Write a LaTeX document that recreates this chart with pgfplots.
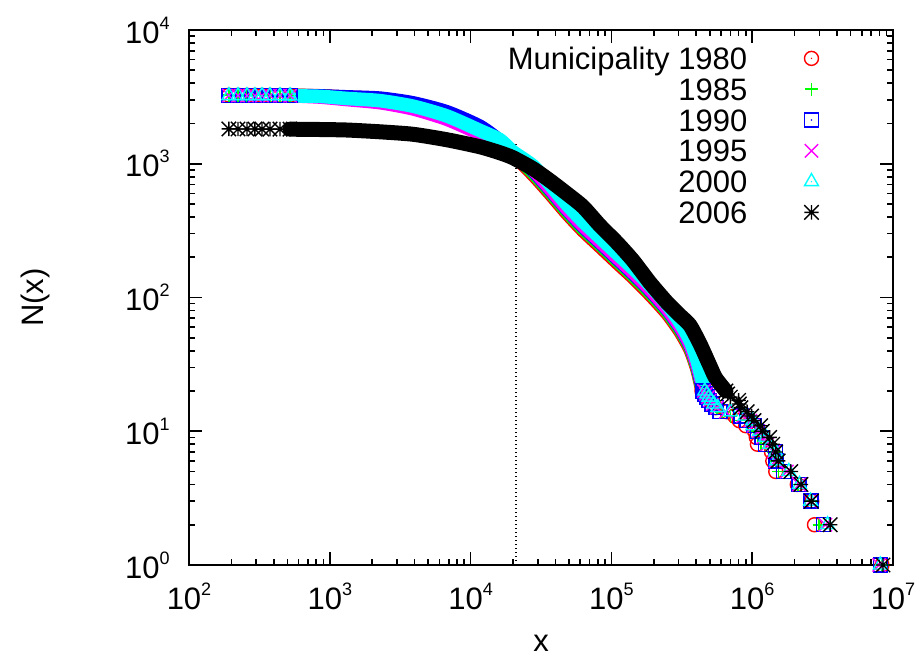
\documentclass[border=0pt]{standalone}
\usepackage{fontspec}
\setmainfont{Liberation Sans}
\usepackage{pgfplots}
\usepackage{pgfplotstable}
\pgfplotsset{compat=1.18}
\usetikzlibrary{plotmarks}

\definecolor{gred}{RGB}{255,0,0}
\definecolor{ggreen}{RGB}{0,255,0}
\definecolor{gblue}{RGB}{0,0,255}
\definecolor{gmag}{RGB}{255,0,255}
\definecolor{gcyan}{RGB}{0,255,255}

\newcommand{\gsup}[1]{\raisebox{7pt}{\fontsize{9}{9}\selectfont #1}}
\newcommand{\lfont}{\fontsize{15.5}{18}\selectfont}

\pgfdeclareplotmark{gcirc}{%
  \pgfpathcircle{\pgfpointorigin}{\pgfplotmarksize}\pgfusepathqstroke
  \pgfpathcircle{\pgfpointorigin}{0.4pt}\pgfusepathqfill}
\pgfdeclareplotmark{gsq}{%
  \pgfpathrectanglecorners{\pgfqpoint{-\pgfplotmarksize}{-\pgfplotmarksize}}{\pgfqpoint{\pgfplotmarksize}{\pgfplotmarksize}}\pgfusepathqstroke
  \pgfpathcircle{\pgfpointorigin}{0.4pt}\pgfusepathqfill}
\pgfdeclareplotmark{gtri}{%
  \pgfpathmoveto{\pgfqpoint{0pt}{\pgfplotmarksize}}%
  \pgfpathlineto{\pgfqpointpolar{-150}{\pgfplotmarksize}}%
  \pgfpathlineto{\pgfqpointpolar{-30}{\pgfplotmarksize}}%
  \pgfpathclose\pgfusepathqstroke
  \pgfpathcircle{\pgfpointorigin}{0.4pt}\pgfusepathqfill}
\pgfdeclareplotmark{gstar}{%
  \pgfpathmoveto{\pgfqpoint{-\pgfplotmarksize}{0pt}}\pgfpathlineto{\pgfqpoint{\pgfplotmarksize}{0pt}}%
  \pgfpathmoveto{\pgfqpoint{0pt}{-\pgfplotmarksize}}\pgfpathlineto{\pgfqpoint{0pt}{\pgfplotmarksize}}%
  \pgfpathmoveto{\pgfqpoint{-\pgfplotmarksize}{-\pgfplotmarksize}}\pgfpathlineto{\pgfqpoint{\pgfplotmarksize}{\pgfplotmarksize}}%
  \pgfpathmoveto{\pgfqpoint{-\pgfplotmarksize}{\pgfplotmarksize}}\pgfpathlineto{\pgfqpoint{\pgfplotmarksize}{-\pgfplotmarksize}}%
  \pgfusepathqstroke}

\pgfplotstableread{
x N
192 3255
223 3254
258 3253
294 3252
330 3251
376 3249
443 3247
522 3245
852 3220
1325 3141
2272 3066
3898 2818
6798 2411
11664 1879
16174 1435
20005 1167
27750 828
36640 597
48380 424
62850 316
82990 240
109600 182
142400 141
188000 105
248300 76.0
307100 55.7
361600 40.9
405500 29.0
440000 20
460000 19
490000 18
510000 17
530000 16
550000 15
660000 14
750000 13
810000 12
900000 11
1040000 10
1069000 9
1089000 8
1371000 7
1400000 6
1470000 5
2090000 4
2650000 3
2770000 2
8350000 1
}\tA

\pgfplotstableread{
x N
192 3253
223 3252
258 3251
294 3250
330 3249
376 3247
443 3245
522 3243
852 3206
1325 3109
2272 3014
3898 2756
6798 2341
11664 1825
16174 1459
20005 1187
27750 857
36640 618
48380 438
62850 327
82990 249
109600 189
142400 146
188000 109
248300 78.6
307100 57.7
361600 42.4
405500 30.0
444000 20
462000 19
485000 18
505000 17
535000 16
560000 15
610000 14
700000 13
820000 12
1040000 11
1060000 10
1090000 9
1160000 8
1410000 7
1480000 6
1540000 5
2120000 4
2640000 3
2990000 2
8350000 1
}\tB

\pgfplotstableread{
x N
192 3245
223 3244
258 3243
294 3242
330 3241
376 3239
443 3237
522 3235
852 3215
1325 3162
2272 3093
3898 2852
6798 2444
11664 1905
16174 1485
20005 1208
27750 887
36640 640
48380 454
62850 339
82990 257
109600 195
142400 151
188000 113
248300 81.4
307100 59.7
361600 43.8
405500 31.1
447000 20
462000 19
478000 18
493000 17
518000 16
553000 15
590000 14
830000 13
920000 12
1030000 11
1090000 10
1170000 9
1240000 8
1460000 7
1480000 6
1670000 5
2150000 4
2620000 3
3220000 2
8160000 1
}\tC

\pgfplotstableread{
x N
192 3234
223 3233
258 3232
294 3231
330 3230
376 3228
443 3227
522 3225
852 3152
1325 3019
2272 2862
3898 2573
6798 2149
11664 1675
16174 1435
20005 1167
27750 902
36640 651
48380 461
62850 345
82990 262
109600 199
142400 154
188000 115
248300 82.8
307100 60.8
361600 44.6
405500 31.6
454000 20
469000 19
485000 18
500000 17
526000 16
561000 15
650000 14
860000 13
970000 12
1020000 11
1110000 10
1200000 9
1280000 8
1420000 7
1460000 6
1760000 5
2150000 4
2600000 3
3310000 2
7970000 1
}\tD

\pgfplotstableread{
x N
192 3229
223 3228
258 3227
294 3226
330 3225
376 3224
443 3222
522 3220
852 3190
1325 3077
2272 2962
3898 2695
6798 2274
11664 1772
16174 1511
20005 1229
27750 966
36640 697
48380 494
62850 369
82990 280
109600 213
142400 165
188000 123
248300 88.7
307100 65.1
361600 47.8
405500 33.9
460000 20
476000 19
492000 18
508000 17
534000 16
570000 15
700000 14
890000 13
1008000 12
1011000 11
1130000 10
1250000 9
1340000 8
1470000 7
1490000 6
1820000 5
2170000 4
2600000 3
3430000 2
8130000 1
}\tE

\pgfplotstableread{
x N
192 1821
223 1820
258 1819
294 1818
330 1817
376 1816
443 1815
522 1813
852 1803
1325 1787
2272 1733
3898 1661
6798 1511
11664 1339
16174 1208
20005 1109
27750 918
36640 747
48380 597
62850 478
82990 345
109600 257
142400 189
188000 129
248300 91.8
307100 73.4
361600 62
425900 45
500000 31
550000 25
650000 20
670000 19
700000 18
800000 17
810000 16
830000 15
920000 14
990000 13
1030000 12
1150000 11
1180000 10
1330000 9
1400000 8
1470000 7
1530000 6
1880000 5
2220000 4
2630000 3
3580000 2
8490000 1
}\tF

\begin{document}
\begin{tikzpicture}
\useasboundingbox (-94.5pt,-47pt) rectangle (365.5pt,282.5pt);
\begin{axis}[
  xmode=log, ymode=log,
  scale only axis, width=352pt, height=267.5pt,
  xmin=100, xmax=10000000, ymin=1, ymax=10000,
  clip=false,
  xtick={100,1000,10000,100000,1000000,10000000},
  xticklabels={10\gsup{2},10\gsup{3},10\gsup{4},10\gsup{5},10\gsup{6},10\gsup{7}},
  ytick={1,10,100,1000,10000},
  yticklabels={10\gsup{0},10\gsup{1},10\gsup{2},10\gsup{3},10\gsup{4}},
  minor xtick={200,300,400,500,600,700,800,900,2000,3000,4000,5000,6000,7000,8000,9000,20000,30000,40000,50000,60000,70000,80000,90000,200000,300000,400000,500000,600000,700000,800000,900000,2000000,3000000,4000000,5000000,6000000,7000000,8000000,9000000},
  minor ytick={2,3,4,5,6,7,8,9,20,30,40,50,60,70,80,90,200,300,400,500,600,700,800,900,2000,3000,4000,5000,6000,7000,8000,9000},
  tick align=inside, tick pos=both,
  major tick length=6.5pt, minor tick length=2.8pt,
  every tick/.style={black, line width=0.8pt},
  axis line style={line width=1pt},
  xticklabel style={font=\lfont, inner sep=0pt, yshift=-9pt},
  yticklabel style={font=\lfont, inner sep=0pt, xshift=-9.5pt},
  xlabel={x}, ylabel={N(x)},
  xlabel style={font=\lfont, at={(axis description cs:0.5,-0.1458)}, anchor=center},
  ylabel style={font=\lfont, at={(axis description cs:-0.21875,0.5)}, anchor=center},
  legend plot pos=right,
  legend cell align=right,
  legend style={draw=none, fill=none, font=\lfont,
    at={(rel axis cs:0.895,0.9686)}, anchor=north east,
    inner sep=0pt, row sep=4.2pt, column sep=28.5pt,
    nodes={inner sep=0pt, text height=11.2pt, text depth=0pt}},
  band/.style={line width=#1, line cap=round, line join=round, smooth, tension=0.4, forget plot},
]
\addplot[black, line width=0.6pt, dash pattern=on 0.6pt off 1.4pt, forget plot] coordinates {(21000,1) (21000,1410)};

\addplot[gred, band=6.8pt, skip coords between index={0}{7}, skip coords between index={29}{100}] table[x=x,y=N] {\tA};
\addplot[gred, only marks, mark=gcirc, mark size=3.5pt, mark options={line width=0.7pt}, skip coords between index={8}{28}] table[x=x,y=N] {\tA};
\addlegendentry{Municipality 1980}

\addplot[ggreen, band=6.8pt, skip coords between index={0}{7}, skip coords between index={29}{100}] table[x=x,y=N] {\tB};
\addplot[ggreen, only marks, mark=+, mark size=3.3pt, mark options={line width=0.8pt}, skip coords between index={8}{28}] table[x=x,y=N] {\tB};
\addlegendentry{1985}

\addplot[gblue, band=6.8pt, skip coords between index={0}{7}, skip coords between index={29}{100}] table[x=x,y=N] {\tC};
\addplot[gblue, only marks, mark=gsq, mark size=3.5pt, mark options={line width=0.7pt}, skip coords between index={8}{28}] table[x=x,y=N] {\tC};
\addlegendentry{1990}

\addplot[gmag, band=6.8pt, skip coords between index={0}{7}, skip coords between index={29}{100}] table[x=x,y=N] {\tD};
\addplot[gmag, only marks, mark=x, mark size=4.7pt, mark options={line width=0.7pt}, skip coords between index={8}{28}] table[x=x,y=N] {\tD};
\addlegendentry{1995}

\addplot[gcyan, band=6.8pt, skip coords between index={0}{7}, skip coords between index={29}{100}] table[x=x,y=N] {\tE};
\addplot[gcyan, only marks, mark=gtri, mark size=4pt, mark options={line width=0.7pt}, skip coords between index={8}{28}] table[x=x,y=N] {\tE};
\addlegendentry{2000}

\addplot[black, band=7.5pt, skip coords between index={0}{7}, skip coords between index={31}{100}] table[x=x,y=N] {\tF};
\addplot[black, only marks, mark=gstar, mark size=3.6pt, mark options={line width=0.7pt}, skip coords between index={8}{30}] table[x=x,y=N] {\tF};
\addlegendentry{2006}
\end{axis}
\end{tikzpicture}
\end{document}
